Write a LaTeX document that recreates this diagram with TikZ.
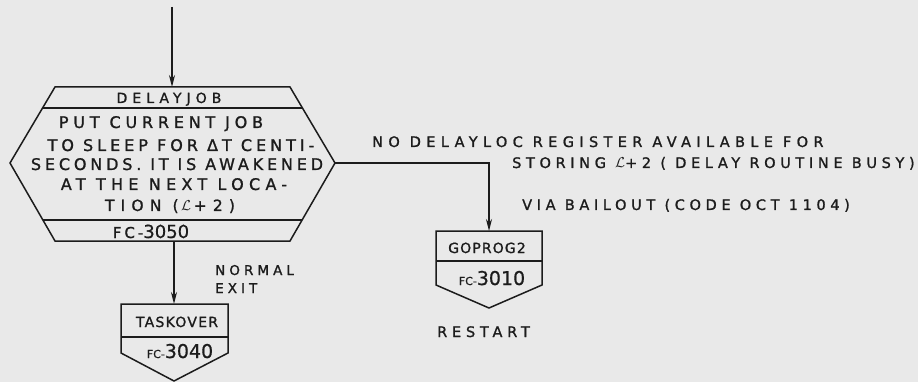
\documentclass[tikz,border=0pt]{standalone}
\usepackage{fontspec}
\usetikzlibrary{arrows.meta,calc}
\newfontfamily\lett[LetterSpace=30,FakeBold=1.2]{DejaVu Sans}
\newfontfamily\digs[FakeBold=0.6]{DejaVu Sans}
\definecolor{paper}{RGB}{233,233,233}
\definecolor{ink}{RGB}{28,28,28}
% spaced lettering: #1 letter spacing, #2 size, #3 text
\newcommand{\ls}[3]{{\lett\addfontfeatures{LetterSpace=#1}\fontsize{#2}{#2}\selectfont #3}}
\newcommand{\fcnum}[1]{{\digs\fontsize{11}{11}\selectfont FC-}{\digs\fontsize{19}{19}\selectfont #1}}
\begin{document}
\begin{tikzpicture}[x=1pt,y=-1pt,
  line/.style={draw=ink,line width=1.5pt,line join=miter},
  arr/.style={line,-{Stealth[length=12pt,width=6pt]}},
  word/.style={inner sep=0pt,text=ink,anchor=base},
  wordw/.style={word,anchor=base west}]
\useasboundingbox (0,0) rectangle (918,382);
\fill[paper] (0,0) rectangle (918,382);

% DELAYJOB hexagon
\coordinate (TL) at (55,87);
\coordinate (TR) at (290,87);
\coordinate (R)  at (335,163);
\coordinate (BR) at (290,241);
\coordinate (BL) at (55,241);
\coordinate (L)  at (10,163);
\draw[line] (TL) -- (TR) -- (R) -- (BR) -- (BL) -- (L) -- cycle;
\draw[line] ($(TL)!0.276!(L)$) -- ($(TR)!0.276!(R)$);
\draw[line] ($(L)!0.731!(BL)$) -- ($(R)!0.731!(BR)$);

\node[word] (dj) at (169,103) {\ls{36}{14}{DELAYJOB}};
\node[word] (l1) at (161,128) {\ls{30}{16}{PUT CURRENT JOB}};
\node[word] (l2) at (181,151) {\ls{25}{16}{TO SLEEP FOR ΔT CENTI-}};
\node[word] (l3) at (177,170) {\ls{24}{16}{SECONDS. IT IS AWAKENED}};
\node[word] (l4) at (174,190) {\ls{33}{16}{AT THE NEXT LOCA-}};
\node[word] (l5) at (170,211) {\ls{40}{15.5}{TION (\,$\mathcal{L}$\,+2)}};
\node[word] (f50) at (151,238) {\ls{20}{15}{FC-}{\digs\fontsize{18}{18}\selectfont 3050}};

% GOPROG2 off-page connector
\coordinate (gT) at (489,231);
\draw[line] (436,231) -- (542,231) -- (542,285) -- (489,308) -- (436,285) -- cycle;
\draw[line] (436,261) -- (542,261);
\node[word] (gp) at (487,253) {\ls{8}{14}{GOPROG2}};
\node[word] (g10) at (492,285) {\fcnum{3010}};

% TASKOVER off-page connector
\coordinate (tT) at (174,304);
\coordinate (hB) at (174,241);
\draw[line] (121,304) -- (228,304) -- (228,353) -- (174,381) -- (121,353) -- cycle;
\draw[line] (121,337) -- (228,337);
\node[word] (tk) at (177,327) {\ls{9}{14}{TASKOVER}};
\node[word] (t40) at (180,358) {\fcnum{3040}};

% flow lines
\coordinate (in) at (172,7);
\coordinate (hT) at (172,87);
\draw[arr] (in) -- (hT);
\draw[arr] (R) -| (gT);
\draw[arr] (hB) -- (tT);

% annotations
\node[wordw] (a1) at (372,147) {\ls{37}{14.5}{NO DELAYLOC REGISTER AVAILABLE FOR}};
\node[wordw] (a2) at (512,168) {\ls{32}{14.5}{STORING $\mathcal{L}$+2 ( DELAY ROUTINE BUSY)}};
\node[wordw] (a3) at (522,210) {\ls{32}{14.5}{VIA BAILOUT (CODE OCT 1104)}};
\node[wordw] (n1) at (215,275) {\ls{30}{13.5}{NORMAL}};
\node[wordw] (n2) at (215,293) {\ls{30}{13.5}{EXIT}};
\node[wordw] (rs) at (437,337) {\ls{33}{14.5}{RESTART}};
\end{tikzpicture}
\end{document}
